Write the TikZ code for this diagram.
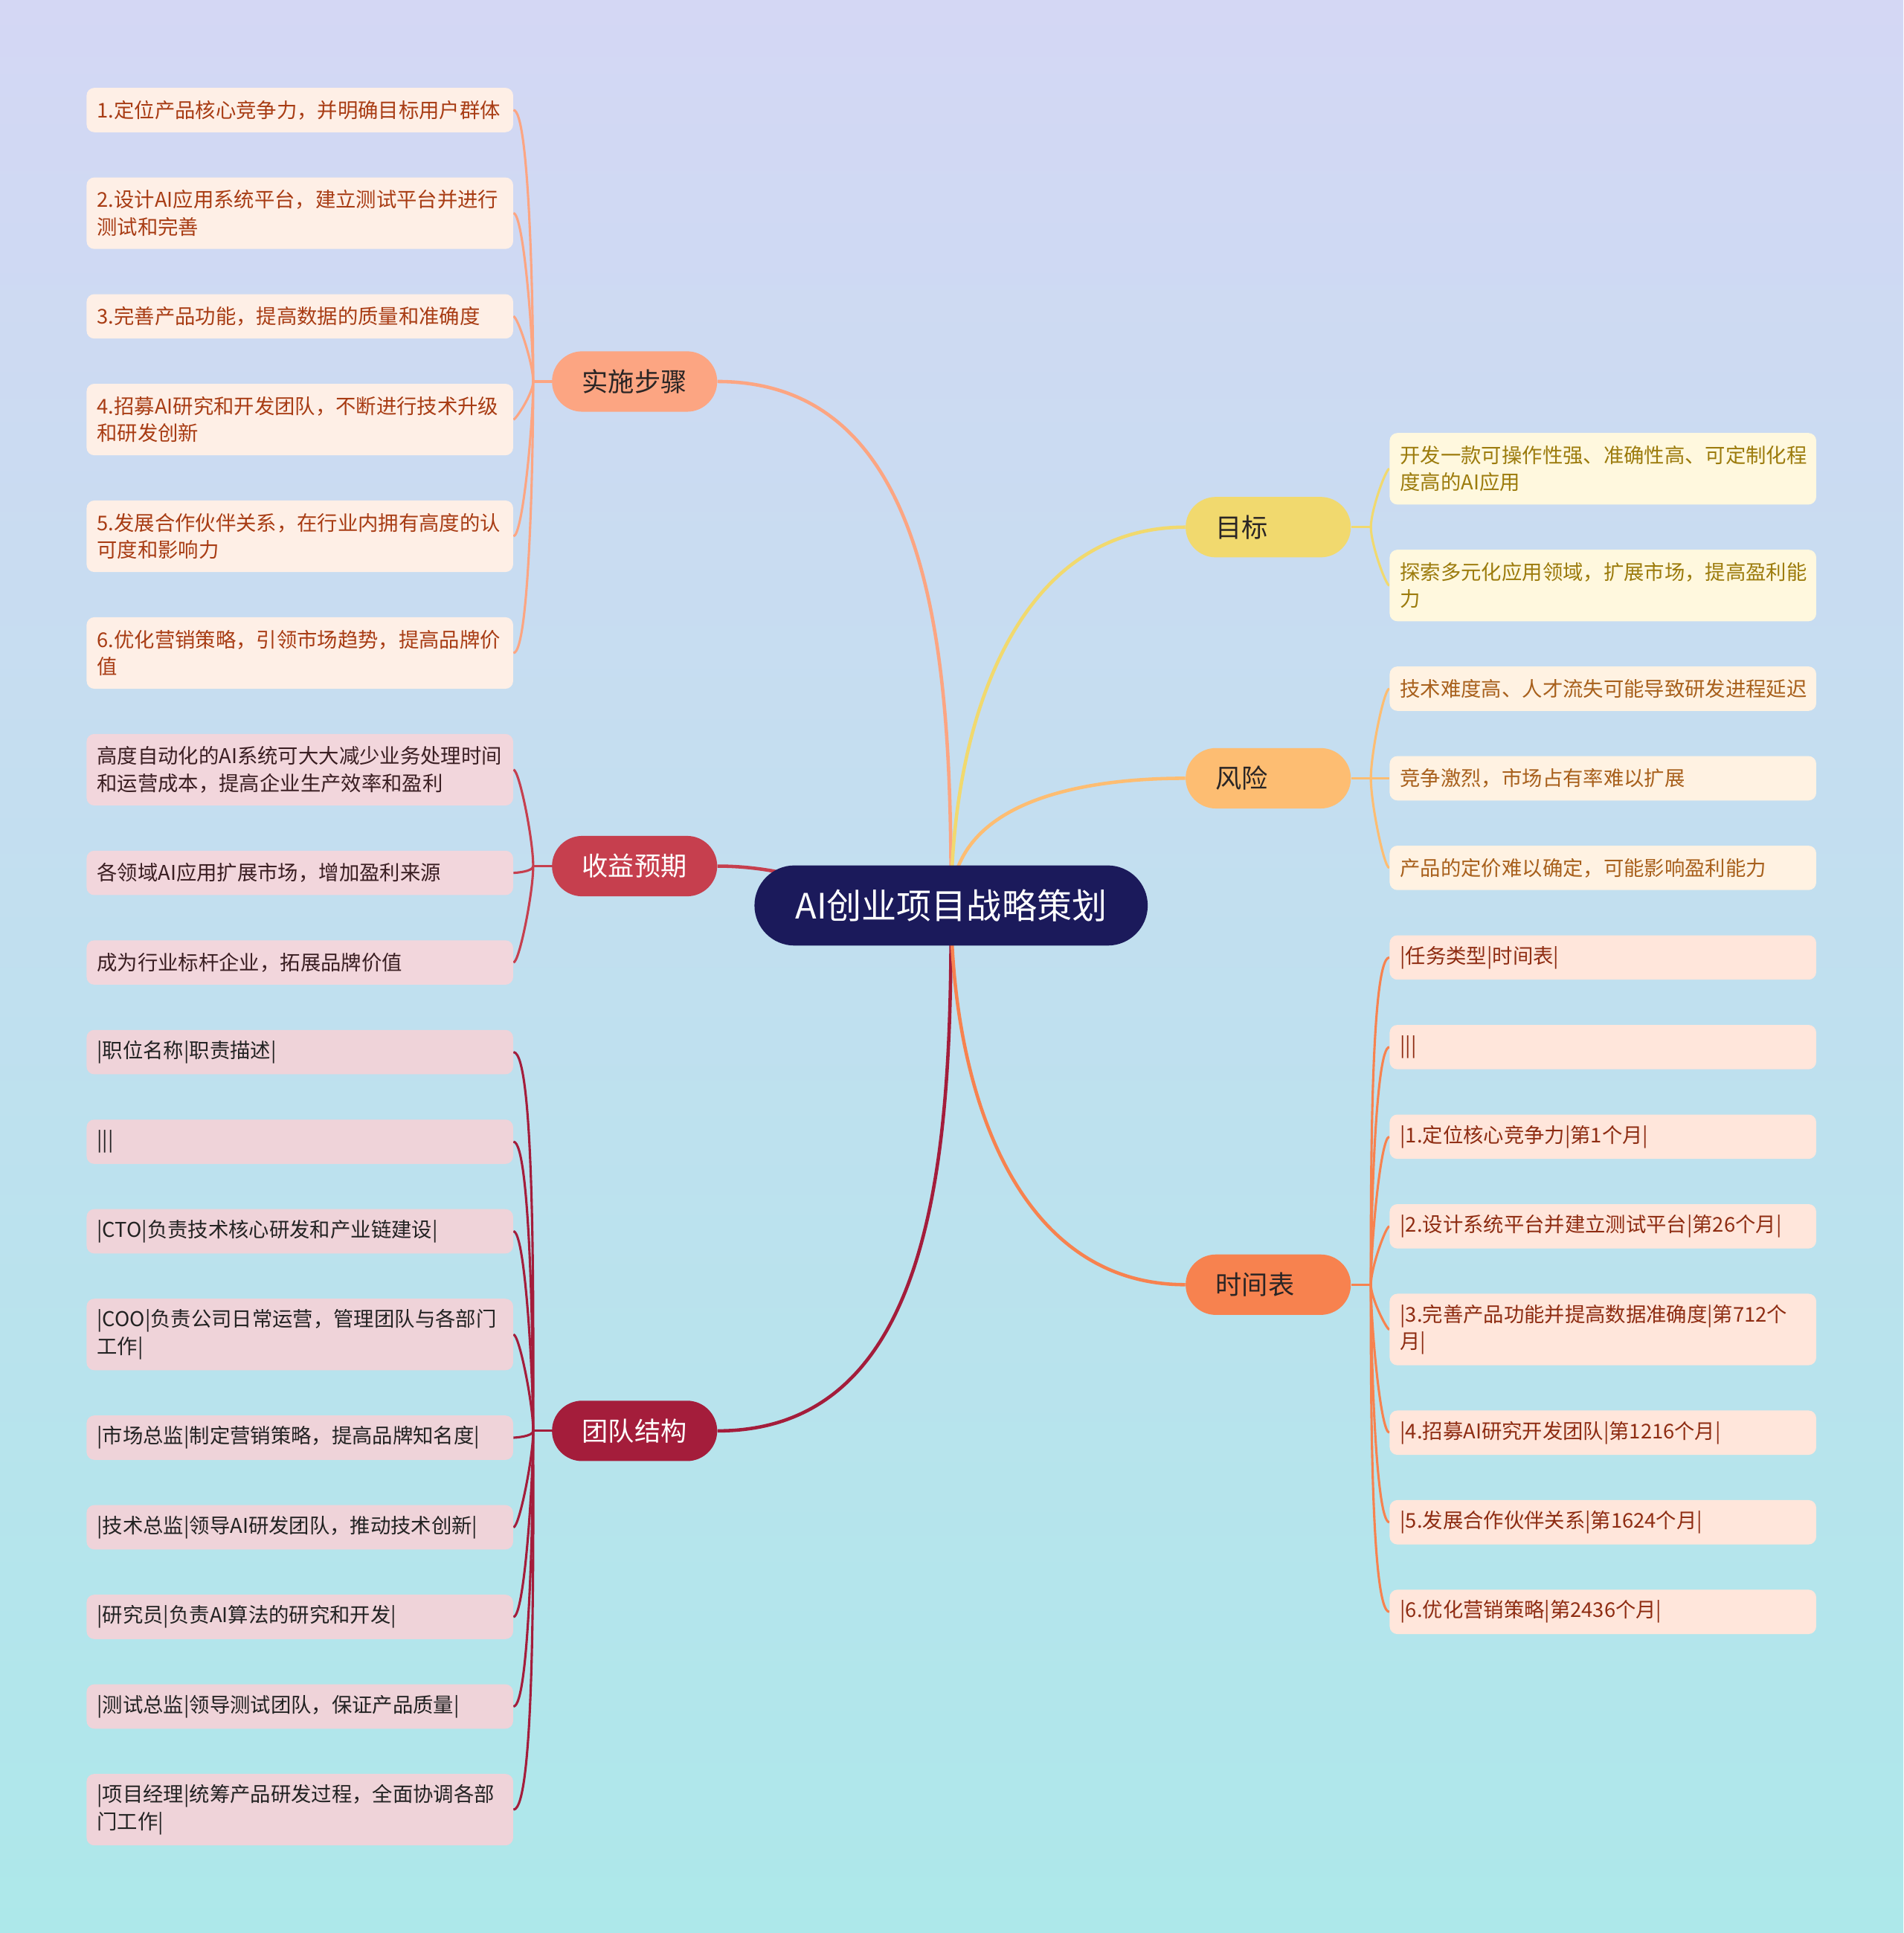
\documentclass[tikz,border=0pt]{standalone}
\usepackage{fontspec}
\setmainfont{Noto Sans CJK SC}
\usetikzlibrary{positioning, calc}

\definecolor{bgtop}{HTML}{D4D7F4}
\definecolor{bgbot}{HTML}{ADE8EA}
\definecolor{rootc}{HTML}{1B1A5B}
\definecolor{stepc}{HTML}{FCA582}
\definecolor{profc}{HTML}{C63F4E}
\definecolor{teamc}{HTML}{A41D3B}
\definecolor{goalc}{HTML}{F1D96E}
\definecolor{riskc}{HTML}{FDBD72}
\definecolor{timec}{HTML}{F7824F}
\definecolor{stepbg}{HTML}{FEEFE6}
\definecolor{profbg}{HTML}{F2D6DC}
\definecolor{teambg}{HTML}{EFD3D9}
\definecolor{goalbg}{HTML}{FFF8DE}
\definecolor{riskbg}{HTML}{FFF2E2}
\definecolor{timebg}{HTML}{FFE6DB}
\definecolor{steptx}{HTML}{A83C14}
\definecolor{proftx}{HTML}{3A1E22}
\definecolor{teamtx}{HTML}{222222}
\definecolor{goaltx}{HTML}{9C7B0C}
\definecolor{risktx}{HTML}{A8601C}
\definecolor{timetx}{HTML}{8E2C12}
\definecolor{darktx}{HTML}{2A2525}

\pgfdeclarelayer{background}
\pgfsetlayers{background,main}

\begin{document}
\begin{tikzpicture}[
  x=0.8pt, y=0.8pt, node distance=28.95pt,
  leaf/.style={rectangle, rounded corners=5pt, minimum height=28.8pt,
    text width=263.2pt, inner xsep=6.8pt, inner ysep=3pt, align=left,
    font=\fontsize{13.2}{17.6}\selectfont},
  twoline/.style={minimum height=46.4pt},
  sbox/.style={leaf, fill=stepbg, text=steptx},
  pbox/.style={leaf, fill=profbg, text=proftx},
  mbox/.style={leaf, fill=teambg, text=teamtx},
  gbox/.style={leaf, fill=goalbg, text=goaltx},
  rbox/.style={leaf, fill=riskbg, text=risktx},
  tbox/.style={leaf, fill=timebg, text=timetx},
  branch/.style={rectangle, rounded corners=19.6pt, minimum height=39.2pt,
    text width=68pt, inner xsep=19.6pt, align=left, text=darktx,
    font=\fontsize{17}{20}\selectfont},
  root/.style={rectangle, rounded corners=26pt, minimum width=255.2pt,
    minimum height=52pt, fill=rootc, text=white,
    font=\fontsize{22.7}{26}\selectfont},
  link/.style={line width=2.2pt},
  twig/.style={line width=1.5pt, out looseness=0.15, in looseness=0.7}
]
  \useasboundingbox (0,0) rectangle (1544,-1568);
  \begin{pgfonlayer}{background}
    \shade[top color=bgtop, bottom color=bgbot] (0,0) rectangle (1544,-1568);
  \end{pgfonlayer}

  \node[root] (root) at (771.5,-734.5) {AI创业项目战略策划};

  % left column
  \node[sbox, anchor=north west] (s1) at (70,-71) {1.定位产品核心竞争力，并明确目标用户群体};
  \node[sbox, twoline, below=of s1] (s2) {2.设计AI应用系统平台，建立测试平台并进行\\测试和完善};
  \node[sbox, below=of s2] (s3) {3.完善产品功能，提高数据的质量和准确度};
  \node[sbox, twoline, below=of s3] (s4) {4.招募AI研究和开发团队，不断进行技术升级\\和研发创新};
  \node[sbox, twoline, below=of s4] (s5) {5.发展合作伙伴关系，在行业内拥有高度的认\\可度和影响力};
  \node[sbox, twoline, below=of s5] (s6) {6.优化营销策略，引领市场趋势，提高品牌价\\值};
  \node[pbox, twoline, below=of s6] (p1) {高度自动化的AI系统可大大减少业务处理时间\\和运营成本，提高企业生产效率和盈利};
  \node[pbox, below=of p1] (p2) {各领域AI应用扩展市场，增加盈利来源};
  \node[pbox, below=of p2] (p3) {成为行业标杆企业，拓展品牌价值};
  \node[mbox, below=of p3] (m1) {|职位名称|职责描述|};
  \node[mbox, below=of m1] (m2) {|||};
  \node[mbox, below=of m2] (m3) {|CTO|负责技术核心研发和产业链建设|};
  \node[mbox, twoline, below=of m3] (m4) {|COO|负责公司日常运营，管理团队与各部门\\工作|};
  \node[mbox, below=of m4] (m5) {|市场总监|制定营销策略，提高品牌知名度|};
  \node[mbox, below=of m5] (m6) {|技术总监|领导AI研发团队，推动技术创新|};
  \node[mbox, below=of m6] (m7) {|研究员|负责AI算法的研究和开发|};
  \node[mbox, below=of m7] (m8) {|测试总监|领导测试团队，保证产品质量|};
  \node[mbox, twoline, below=of m8] (m9) {|项目经理|统筹产品研发过程，全面协调各部\\门工作|};

  % right column
  \node[gbox, twoline, anchor=north west] (g1) at (1127,-351) {开发一款可操作性强、准确性高、可定制化程\\度高的AI应用};
  \node[gbox, twoline, below=of g1] (g2) {探索多元化应用领域，扩展市场，提高盈利能\\力};
  \node[rbox, below=of g2] (r1) {技术难度高、人才流失可能导致研发进程延迟};
  \node[rbox, below=of r1] (r2) {竞争激烈，市场占有率难以扩展};
  \node[rbox, below=of r2] (r3) {产品的定价难以确定，可能影响盈利能力};
  \node[tbox, below=of r3] (t1) {|任务类型|时间表|};
  \node[tbox, below=of t1] (t2) {|||};
  \node[tbox, below=of t2] (t3) {|1.定位核心竞争力|第1个月|};
  \node[tbox, below=of t3] (t4) {|2.设计系统平台并建立测试平台|第26个月|};
  \node[tbox, twoline, below=of t4] (t5) {|3.完善产品功能并提高数据准确度|第712个\\月|};
  \node[tbox, below=of t5] (t6) {|4.招募AI研究开发团队|第1216个月|};
  \node[tbox, below=of t6] (t7) {|5.发展合作伙伴关系|第1624个月|};
  \node[tbox, below=of t7] (t8) {|6.优化营销策略|第2436个月|};

  % branches
  \coordinate (sj) at ($(s1.east)!0.5!(s6.east)+(16,0)$);
  \coordinate (pj) at ($(p1.east)!0.5!(p3.east)+(16,0)$);
  \coordinate (mj) at ($(m1.east)!0.5!(m9.east)+(16,0)$);
  \coordinate (gj) at ($(g1.west)!0.5!(g2.west)+(-15,0)$);
  \coordinate (rj) at ($(r1.west)!0.5!(r3.west)+(-15,0)$);
  \coordinate (tj) at ($(t1.west)!0.5!(t8.west)+(-15,0)$);
  \node[branch, fill=stepc, right=12pt of sj] (steps) {实施步骤};
  \node[branch, fill=profc, text=white, right=12pt of pj] (profit) {收益预期};
  \node[branch, fill=teamc, text=white, right=12pt of mj] (team) {团队结构};
  \node[branch, fill=goalc, left=12.8pt of gj] (goals) {目标};
  \node[branch, fill=riskc, left=12.8pt of rj] (risks) {风险};
  \node[branch, fill=timec, left=12.8pt of tj] (timeline) {时间表};

  \begin{pgfonlayer}{background}
    \draw[link, stepc] (root.center) to[out=90, in=0] (steps.east);
    \draw[link, profc] (root.center) to[out=180, in=0] (profit.east);
    \draw[link, teamc] (root.center) to[out=-90, in=0] (team.east);
    \draw[link, goalc] (root.center) to[out=90, in=180] (goals.west);
    \draw[link, riskc] (root.center) to[out=90, in=180] (risks.west);
    \draw[link, timec] (root.center) to[out=-90, in=180] (timeline.west);

    \draw[twig, stepc] (sj) -- (steps.west);
    \foreach \i/\a in {1/90,2/90,3/90,4/-90,5/-90,6/-90}
      \draw[twig, stepc] (s\i.east) to[out=0, in=\a] (sj);
    \draw[twig, profc] (pj) -- (profit.west);
    \foreach \i/\a in {1/90,2/-90,3/-90}
      \draw[twig, profc] (p\i.east) to[out=0, in=\a] (pj);
    \draw[twig, teamc] (mj) -- (team.west);
    \foreach \i/\a in {1/90,2/90,3/90,4/90,5/-90,6/-90,7/-90,8/-90,9/-90}
      \draw[twig, teamc] (m\i.east) to[out=0, in=\a] (mj);
    \draw[twig, goalc] (gj) -- (goals.east);
    \foreach \i/\a in {1/90,2/-90}
      \draw[twig, goalc] (g\i.west) to[out=180, in=\a] (gj);
    \draw[twig, riskc] (rj) -- (risks.east);
    \foreach \i/\a in {1/90,2/0,3/-90}
      \draw[twig, riskc] (r\i.west) to[out=180, in=\a] (rj);
    \draw[twig, timec] (tj) -- (timeline.east);
    \foreach \i/\a in {1/90,2/90,3/90,4/90,5/-90,6/-90,7/-90,8/-90}
      \draw[twig, timec] (t\i.west) to[out=180, in=\a] (tj);
  \end{pgfonlayer}
\end{tikzpicture}
\end{document}
